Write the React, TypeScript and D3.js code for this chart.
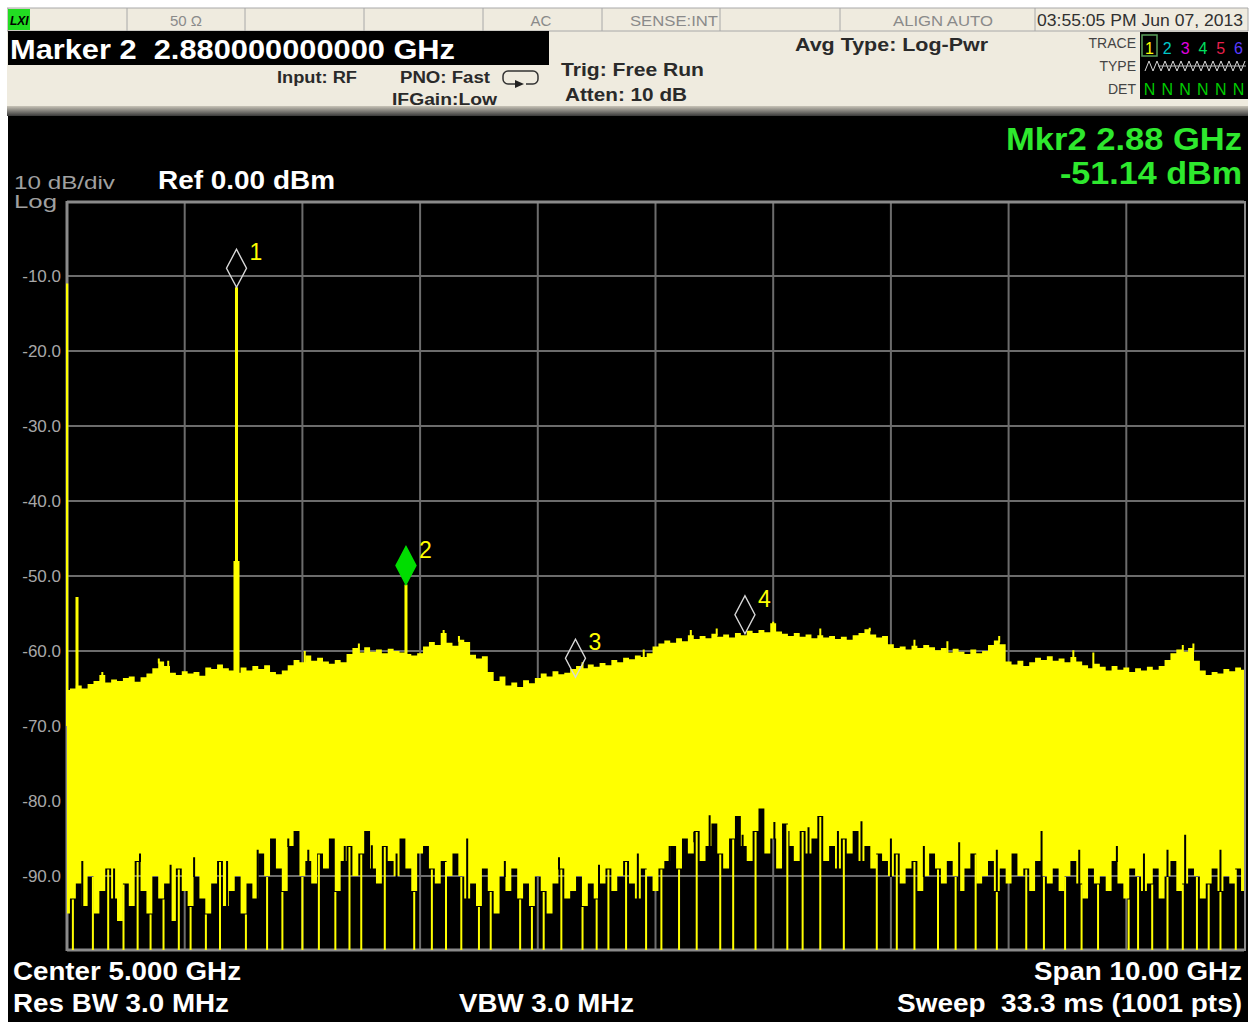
import React from "react";
import * as d3 from "d3";

// ---------- DATA ----------
const yTickLabels = [-10, -20, -30, -40, -50, -60, -70, -80, -90];

// Peak (upper) envelope of the trace, dBm, 0..10 GHz in 0.05 GHz steps
const upperTrace = [
  -65.2, -65.0, -64.6, -65.0, -64.4, -64.0, -63.2, -64.2, -63.8, -64.0,
  -63.6, -63.4, -64.1, -63.5, -63.0, -62.3, -61.4, -62.0, -62.9, -63.2,
  -62.7, -63.0, -62.8, -63.3, -62.2, -62.4, -61.8, -62.3, -62.6, -62.9,
  -62.2, -62.6, -62.0, -62.4, -61.9, -62.8, -63.1, -62.6, -61.9, -61.2,
  -61.5, -60.6, -61.3, -60.9, -61.4, -61.7, -61.2, -61.5, -60.4, -59.6,
  -60.2, -59.5, -60.1, -59.8, -60.3, -59.7, -60.0, -60.2, -60.4, -60.6,
  -60.3, -59.4, -58.8, -59.2, -57.6, -58.9, -59.3, -58.5, -58.8, -60.5,
  -61.0, -60.7, -62.8, -64.0, -63.4, -64.6, -64.2, -64.8, -63.9, -64.3,
  -63.6, -63.0, -63.4, -62.7, -63.1, -62.9, -62.4, -62.0, -62.3, -61.8,
  -62.1, -61.6, -61.9, -61.2, -61.5, -60.9, -61.1, -60.6, -60.8, -60.3,
  -59.4, -59.0, -58.6, -58.9, -58.3, -58.7, -57.9, -58.4, -58.0, -58.3,
  -57.7, -58.1, -57.8, -58.2, -57.6, -57.9, -57.3, -57.6, -57.2, -57.5,
  -56.3, -57.4, -57.7, -58.0, -57.6, -58.1, -57.8, -58.3, -57.9, -58.2,
  -58.0, -58.4, -58.1, -58.5, -57.9, -57.6, -57.1, -57.8, -58.2, -58.0,
  -59.1, -59.6, -59.4, -59.8, -59.3, -59.6, -59.2, -59.5, -59.9, -59.6,
  -60.2, -59.7, -60.1, -60.4, -59.8, -60.3, -60.0, -59.2, -58.6, -59.1,
  -61.4, -61.8, -61.3, -62.0, -61.5, -60.9, -61.2, -60.7, -61.3, -61.0,
  -61.5, -60.8, -61.4, -61.9, -62.3, -61.7, -62.1, -62.6, -62.0, -62.5,
  -62.2, -62.8, -62.3, -62.6, -62.1, -62.5, -62.0, -61.2, -60.3, -59.8,
  -60.1, -59.6, -61.3, -62.6, -63.2, -62.8, -63.0, -62.4, -62.7, -62.2,
  -62.5,
];

// Lower envelope of the trace (top of the black floor), dBm, same grid
const lowerTrace = [
  -95, -93, -91, -94, -90, -95, -92, -89, -93, -96,
  -91, -94, -88, -92, -95, -90, -93, -91, -96, -89,
  -92, -94, -90, -93, -95, -91, -88, -94, -92, -90,
  -95, -91, -93,
  -87, -90, -85, -89, -92, -86, -84, -90, -88, -91,
  -87, -89, -85, -92, -88, -86, -90, -87, -84, -89,
  -91, -86, -88, -90, -85, -89, -92, -87, -86, -89,
  -91, -88, -90, -87,
  -90, -93, -91, -94, -89, -92, -95, -90, -92, -89,
  -93, -91, -94, -90, -92, -95, -91, -89, -93, -92,
  -90, -94, -91, -93,
  -91, -89, -92, -90, -88, -91, -93, -89, -90, -92, -89,
  -88, -86, -89, -85, -87, -84, -88, -86, -83, -87,
  -89, -85, -82, -86, -88, -84, -81, -87, -85, -89,
  -83, -86, -88, -84, -87, -85, -82, -88, -86, -89,
  -85, -87, -84, -88, -86, -89, -87,
  -88, -90, -87, -91, -89, -88, -92, -90, -87, -89,
  -91, -88, -90, -92, -89, -87, -91, -90, -88, -92,
  -89, -91, -87, -90, -89, -92, -88, -90, -91,
  -89, -92, -90, -88, -91, -93, -89, -91, -90, -92,
  -88, -91, -93, -89, -90, -92, -91, -89, -93, -90,
  -88, -92, -91, -89, -90, -93, -91, -89, -92, -90,
  -91, -89, -92,
];

// Frequencies (GHz) where the trace drops to the bottom of the screen
const dropoutsGHz = [
  0.05, 0.22, 0.35, 0.48, 0.6, 0.71, 0.82, 0.95, 1.05, 1.18, 1.3, 1.52, 1.7,
  1.83, 2.0, 2.14, 2.28, 2.4, 2.5, 2.7, 2.95, 3.1, 3.22, 3.35, 3.5, 3.6, 3.85,
  3.95, 4.05, 4.2, 4.38, 4.5, 4.6, 4.75, 4.92, 5.05, 5.2, 5.35, 5.55, 5.66,
  5.85, 6.12, 6.25, 6.4, 6.6, 6.88, 7.05, 7.2, 7.4, 7.55, 7.72, 7.9, 8.15,
  8.3, 8.48, 8.62, 8.76, 9.02, 9.1, 9.22, 9.35, 9.48, 9.6, 9.7, 9.8, 9.93,
];

// Narrow dips of the black floor reaching up into the trace (GHz, dBm)
const floorPeaksGHz = [
  0.13, 0.4, 0.62, 0.88, 1.08, 1.36, 1.62, 1.88, 2.05, 2.36, 2.59, 2.8, 3.05,
  3.4, 3.72, 4.18, 4.52, 4.85, 5.12, 5.33, 5.46, 5.74, 6.01, 6.13, 6.3, 6.55,
  6.75, 7.0, 7.28, 7.58, 7.9, 8.28, 8.6, 8.92, 9.15, 9.35, 9.5, 9.8,
];
const floorPeaksLevel = [
  -88, -89, -87, -88.5, -87.5, -88, -86.5, -85, -86.5, -86, -85.9, -87, -86.5,
  -85, -88, -87.5, -88.5, -87, -86, -85.5, -81.9, -84.5, -82.8, -84, -83.5, -84,
  -82.7, -85, -86, -85.5, -86.5, -84, -86.5, -86, -87, -86.5, -84.5, -86.5,
];

// Narrow noise peaks above the envelope (GHz, dBm)
const noisePeaksGHz = [
  0.3, 0.78, 0.86, 2.02, 2.48, 3.2, 3.33, 4.38, 4.9, 5.3, 5.52, 6.0, 6.4, 6.82,
  7.2, 7.48, 7.92, 8.55, 8.72, 9.48, 9.57,
];
const noisePeaksLevel = [
  -62.8, -61.0, -61.3, -60.0, -59.0, -57.2, -58.0, -61.5, -59.8, -57.2, -57.0,
  -56.1, -57.0, -56.9, -58.5, -58.7, -58.0, -59.9, -60.2, -59.2, -59.0,
];

// Narrow spectral lines: frequency (GHz), peak level (dBm), width in px
const spikeFreqs = [0.0, 0.085, 1.44, 1.44, 2.88];
const spikeLevels = [-11.0, -52.8, -11.5, -48.0, -51.14];
const spikeWidths = [2.5, 3, 3, 6, 3];

// Markers
const markerIds = ["1", "2", "3", "4"];
const markerFreqs = [1.44, 2.88, 4.32, 5.76];
const markerLevels = [-11.5, -51.14, -63.5, -57.7];
const activeMarker = "2";

const traceDigits = ["1", "2", "3", "4", "5", "6"];
const traceColors = ["#ffff00", "#00c8c8", "#e000e0", "#00e060", "#e8204c", "#5a3cff"];

const FONT = "'Liberation Sans', Arial, sans-serif";
const BEIGE = "#efebdf";
const YEL = "#ffff00";

function App() {
  const x = d3.scaleLinear().domain([0, 10]).range([67, 1244]);
  const y = d3.scaleLinear().domain([-100, 0]).range([951, 201]);
  const step = 10 / (upperTrace.length - 1);
  const pts = upperTrace.map((u, i) => ({ f: i * step, u, l: lowerTrace[i] }));
  const area = d3
    .area<{ f: number; u: number; l: number }>()
    .x((d) => x(d.f))
    .y0((d) => y(d.l))
    .y1((d) => y(d.u))
    .curve(d3.curveStep);

  const gridF = d3.range(1, 10);
  const statusCells = [8, 127, 245, 364, 483, 602, 720, 840, 1035, 1248];

  const zig: string[] = [];
  for (let i = 0; i <= 25; i++) zig.push(`${1145 + i * 4},${i % 2 ? 61 : 71}`);

  const diamond = (cx: number, by: number) =>
    `M${cx},${by} L${cx - 10},${by - 19} L${cx},${by - 38} L${cx + 10},${by - 19} Z`;

  const pre = { whiteSpace: "pre" as const };
  const lowAt = (f: number) => lowerTrace[Math.round(f / step)];
  const upAt = (f: number) => upperTrace[Math.round(f / step)];

  return (
    <svg
      width={1252}
      height={1025}
      style={{ position: "absolute", left: 0, top: 0 }}
      fontFamily={FONT}
    >
      <defs>
        <clipPath id="plotClip">
          <rect x={66} y={201} width={1179} height={749} />
        </clipPath>
        <linearGradient id="shadow" x1="0" y1="0" x2="0" y2="1">
          <stop offset="0" stopColor="#c8c4b8" />
          <stop offset="1" stopColor="#3a3a3a" />
        </linearGradient>
      </defs>
      <rect x={0} y={0} width={1252} height={1025} fill="#ffffff" />

      {/* ---------- status bar ---------- */}
      <rect x={7} y={8} width={1241} height={100} fill={BEIGE} />
      <rect x={7} y={106} width={1241} height={10} fill="url(#shadow)" />
      <line x1={7} x2={1248} y1={8} y2={8} stroke="#a8a8a8" />
      <line x1={7} x2={1248} y1={31} y2={31} stroke="#a8a8a8" />
      {statusCells.map((cx) => (
        <line key={cx} x1={cx} x2={cx} y1={8} y2={31} stroke="#a8a8a8" />
      ))}
      <rect x={8} y={9} width={22} height={21} fill="#22dd22" />
      <text x={10} y={25} fontSize={12} fontWeight="bold" fontStyle="italic" fill="#000">LXI</text>
      <text x={186} y={26} fontSize={15} fill="#8a8a8a" textAnchor="middle">50 Ω</text>
      <text x={541} y={26} fontSize={15} fill="#8a8a8a" textAnchor="middle">AC</text>
      <text x={630} y={26} fontSize={15} fill="#8a8a8a" textLength={88} lengthAdjust="spacingAndGlyphs">SENSE:INT</text>
      <text x={893} y={26} fontSize={15} fill="#8a8a8a" textLength={100} lengthAdjust="spacingAndGlyphs">ALIGN AUTO</text>
      <text x={1037} y={26} fontSize={16} fill="#303030" textLength={206} lengthAdjust="spacingAndGlyphs">03:55:05 PM Jun 07, 2013</text>

      <rect x={8} y={31} width={541} height={34} fill="#000" />
      <text x={10} y={59} fontSize={28} fontWeight="bold" fill="#fff" style={pre} textLength={445} lengthAdjust="spacingAndGlyphs">
        {"Marker 2  2.880000000000 GHz"}
      </text>

      <text x={277} y={83} fontSize={16} fontWeight="bold" fill="#2a2a2a" textLength={80} lengthAdjust="spacingAndGlyphs">Input: RF</text>
      <text x={400} y={83} fontSize={16} fontWeight="bold" fill="#2a2a2a" textLength={90} lengthAdjust="spacingAndGlyphs">PNO: Fast</text>
      <text x={392} y={105} fontSize={16} fontWeight="bold" fill="#2a2a2a" textLength={105} lengthAdjust="spacingAndGlyphs">IFGain:Low</text>
      <path
        d="M515,84 H508 A5,5 0 0 1 503,79 V76 A5,5 0 0 1 508,71 H533 A5,5 0 0 1 538,76 V79 A5,5 0 0 1 533,84 H526"
        fill="none"
        stroke="#333"
        strokeWidth={1.5}
      />
      <path d="M515,80 L524,84 L515,88 Z" fill="#222" />
      <text x={561} y={76} fontSize={18} fontWeight="bold" fill="#2a2a2a" textLength={143} lengthAdjust="spacingAndGlyphs">Trig: Free Run</text>
      <text x={565} y={101} fontSize={18} fontWeight="bold" fill="#2a2a2a" textLength={122} lengthAdjust="spacingAndGlyphs">Atten: 10 dB</text>
      <text x={795} y={51} fontSize={18} fontWeight="bold" fill="#2a2a2a" textLength={193} lengthAdjust="spacingAndGlyphs">Avg Type: Log-Pwr</text>

      <text x={1136} y={48} fontSize={14} fill="#444" textAnchor="end">TRACE</text>
      <text x={1136} y={71} fontSize={14} fill="#444" textAnchor="end">TYPE</text>
      <text x={1136} y={94} fontSize={14} fill="#444" textAnchor="end">DET</text>
      <rect x={1140} y={32} width={108} height={67} fill="#000" />
      <rect x={1142} y={35} width={15} height={21} fill="none" stroke="#5aa05a" strokeWidth={1.5} />
      {traceDigits.map((t, i) => (
        <g key={t}>
          <text x={1149.5 + i * 17.8} y={54} fontSize={16} fill={traceColors[i]} textAnchor="middle">{t}</text>
          <text x={1149.5 + i * 17.8} y={95} fontSize={16} fill="#00cc00" textAnchor="middle">N</text>
        </g>
      ))}
      <polyline points={zig.join(" ")} fill="none" stroke="#d8d8d8" strokeWidth={1} />
      <line x1={1158} x2={1246} y1={66} y2={66} stroke="#bbbbbb" strokeWidth={1} />

      {/* ---------- screen ---------- */}
      <rect x={8} y={116} width={1240} height={906} fill="#000" />

      <text x={1242} y={150} fontSize={32} fontWeight="bold" fill="#2ee82e" textAnchor="end" textLength={236} lengthAdjust="spacingAndGlyphs">Mkr2 2.88 GHz</text>
      <text x={1242} y={184} fontSize={32} fontWeight="bold" fill="#2ee82e" textAnchor="end" textLength={182} lengthAdjust="spacingAndGlyphs">-51.14 dBm</text>
      <text x={14} y={189} fontSize={19} fill="#a0a0a0" textLength={101} lengthAdjust="spacingAndGlyphs">10 dB/div</text>
      <text x={14} y={208} fontSize={19} fill="#a0a0a0" textLength={43} lengthAdjust="spacingAndGlyphs">Log</text>
      <text x={158} y={189} fontSize={25} fontWeight="bold" fill="#fff" textLength={177} lengthAdjust="spacingAndGlyphs">Ref 0.00 dBm</text>

      {/* graticule */}
      {gridF.map((f) => (
        <line key={f} x1={x(f)} x2={x(f)} y1={y(0)} y2={y(-100)} stroke="#6c6c6c" strokeWidth={2} />
      ))}
      {yTickLabels.map((v) => (
        <g key={v}>
          <line x1={x(0)} x2={x(10)} y1={y(v)} y2={y(v)} stroke="#6c6c6c" strokeWidth={2} />
          <text x={61} y={y(v) + 6} fontSize={17} fill="#a8a8a8" textAnchor="end">{v.toFixed(1)}</text>
        </g>
      ))}
      <line x1={x(0)} x2={x(10)} y1={y(0) + 1} y2={y(0) + 1} stroke="#8a8a8a" strokeWidth={3} />
      <line x1={x(0)} x2={x(10)} y1={y(-100) - 1} y2={y(-100) - 1} stroke="#8a8a8a" strokeWidth={3} />
      <line x1={x(0)} x2={x(0)} y1={y(0)} y2={y(-100)} stroke="#8a8a8a" strokeWidth={3} />
      <line x1={x(10) + 1} x2={x(10) + 1} y1={y(0)} y2={y(-100)} stroke="#8a8a8a" strokeWidth={2} />

      {/* trace */}
      <g clipPath="url(#plotClip)">
        <path d={area(pts) || ""} fill={YEL} />
        {floorPeaksGHz.map((f, i) => (
          <line
            key={"fp" + f}
            x1={x(f)}
            x2={x(f)}
            y1={y(floorPeaksLevel[i])}
            y2={y(lowAt(f)) + 1}
            stroke="#000"
            strokeWidth={2}
          />
        ))}
        {dropoutsGHz.map((f) => (
          <line
            key={"d" + f}
            x1={x(f)}
            x2={x(f)}
            y1={y(lowAt(f)) + 1}
            y2={y(-100)}
            stroke={YEL}
            strokeWidth={2}
          />
        ))}
        {noisePeaksGHz.map((f, i) => (
          <line
            key={"np" + f}
            x1={x(f)}
            x2={x(f)}
            y1={y(noisePeaksLevel[i])}
            y2={y(upAt(f)) + 2}
            stroke={YEL}
            strokeWidth={2}
          />
        ))}
        {spikeFreqs.map((f, i) => (
          <rect
            key={"s" + i}
            x={x(f) - spikeWidths[i] / 2}
            y={y(spikeLevels[i])}
            width={spikeWidths[i]}
            height={y(-70) - y(spikeLevels[i])}
            fill={YEL}
          />
        ))}
      </g>

      {/* markers */}
      {markerIds.map((id, i) => {
        const cx = x(markerFreqs[i]);
        const by = y(markerLevels[i]);
        const active = id === activeMarker;
        return (
          <g key={id}>
            <path
              d={diamond(cx, by)}
              fill={active ? "#00dd00" : "none"}
              stroke={active ? "#00dd00" : "#d8d8d8"}
              strokeWidth={1.4}
            />
            <text x={cx + 13} y={by - 27} fontSize={23} fill={YEL}>{id}</text>
          </g>
        );
      })}

      {/* bottom annotations */}
      <text x={13} y={980} fontSize={25} fontWeight="bold" fill="#fff" textLength={228} lengthAdjust="spacingAndGlyphs">Center 5.000 GHz</text>
      <text x={13} y={1012} fontSize={25} fontWeight="bold" fill="#fff" textLength={216} lengthAdjust="spacingAndGlyphs">Res BW 3.0 MHz</text>
      <text x={459} y={1012} fontSize={25} fontWeight="bold" fill="#fff" textLength={175} lengthAdjust="spacingAndGlyphs">VBW 3.0 MHz</text>
      <text x={1242} y={980} fontSize={25} fontWeight="bold" fill="#fff" textAnchor="end" textLength={208} lengthAdjust="spacingAndGlyphs">Span 10.00 GHz</text>
      <text x={1242} y={1012} fontSize={25} fontWeight="bold" fill="#fff" textAnchor="end" style={pre} textLength={345} lengthAdjust="spacingAndGlyphs">{"Sweep  33.3 ms (1001 pts)"}</text>
    </svg>
  );
}

export default App;
